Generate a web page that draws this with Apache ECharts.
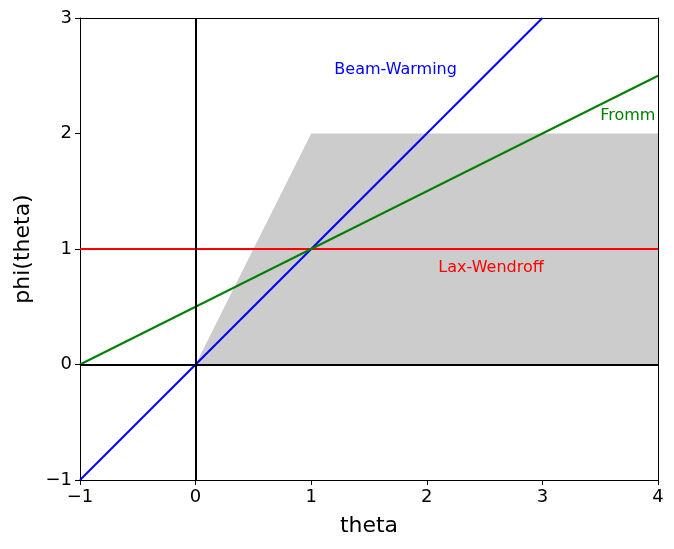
<!DOCTYPE html>
<html>
<head>
<meta charset="utf-8">
<script src="https://cdn.jsdelivr.net/npm/echarts@6/dist/echarts.min.js"></script>
<style>html,body{margin:0;padding:0;background:#fff}#c{width:674px;height:549px}</style>
</head>
<body>
<div id="c"></div>
<script>
// limiter lines and TVD region
let regionPts = [[0, 0], [1, 2], [4, 2]];
let laxWendroff = [[-1, 1], [4, 1]];
let beamWarming = [[-1, -1], [3, 3]];
let fromm = [[-1, 0], [4, 2.5]];
let labels = [
  { name: "Beam-Warming", x: 1.2, y: 2.55, color: "#0000ff" },
  { name: "Fromm", x: 3.5, y: 2.15, color: "#008000" },
  { name: "Lax-Wendroff", x: 2.1, y: 0.84, color: "#ff0000" }
];

let chart = echarts.init(document.getElementById("c"));
let fmt = (v) => String(v).replace("-", "\u2212");
let font = "DejaVu Sans";
let plain = { show: true, onZero: false, lineStyle: { color: "#000", width: 1 } };

chart.setOption({
  animation: false,
  textStyle: { fontFamily: font },
  grid: { left: 80, right: 16, top: 18, bottom: 69 },
  xAxis: [
    { type: "value", min: -1, max: 4, interval: 1, name: "theta", nameLocation: "middle", nameGap: 35,
      nameTextStyle: { fontSize: 22, color: "#000" },
      axisLine: plain, axisTick: { show: true, length: 5, lineStyle: { color: "#000" } },
      axisLabel: { fontSize: 18, color: "#000", formatter: fmt, margin: 8 }, splitLine: { show: false } },
    { type: "value", position: "top", min: -1, max: 4, axisLine: plain, axisTick: { show: false },
      axisLabel: { show: false }, splitLine: { show: false } }
  ],
  yAxis: [
    { type: "value", min: -1, max: 3, interval: 1, name: "phi(theta)", nameLocation: "middle", nameGap: 46,
      nameTextStyle: { fontSize: 22, color: "#000" },
      axisLine: plain, axisTick: { show: true, length: 5, lineStyle: { color: "#000" } },
      axisLabel: { fontSize: 18, color: "#000", formatter: fmt, margin: 8 }, splitLine: { show: false } },
    { type: "value", position: "right", min: -1, max: 3, axisLine: plain, axisTick: { show: false },
      axisLabel: { show: false }, splitLine: { show: false } }
  ],
  series: [
    { type: "line", data: regionPts, symbol: "none", lineStyle: { width: 0 },
      areaStyle: { color: "#cccccc", opacity: 1, origin: 0 }, z: 1 },
    { type: "line", data: [], symbol: "none", z: 2,
      markLine: { silent: true, symbol: "none", label: { show: false },
        lineStyle: { color: "#000", width: 2, type: "solid", opacity: 1 },
        data: [{ xAxis: 0 }, { yAxis: 0 }] } },
    { type: "line", data: laxWendroff, symbol: "none", lineStyle: { color: "#ff0000", width: 2 }, z: 3 },
    { type: "line", data: beamWarming, symbol: "none", lineStyle: { color: "#0000ff", width: 2 }, z: 3 },
    { type: "line", data: fromm, symbol: "none", lineStyle: { color: "#008000", width: 2 }, z: 3 },
    { type: "scatter", symbolSize: 0, z: 4, itemStyle: { opacity: 1 },
      data: labels.map(l => ({ value: [l.x, l.y], label: { show: true, position: "right", distance: 0,
        formatter: l.name, color: l.color, fontSize: 16, opacity: 1 } })) }
  ]
});
</script>
</body>
</html>
